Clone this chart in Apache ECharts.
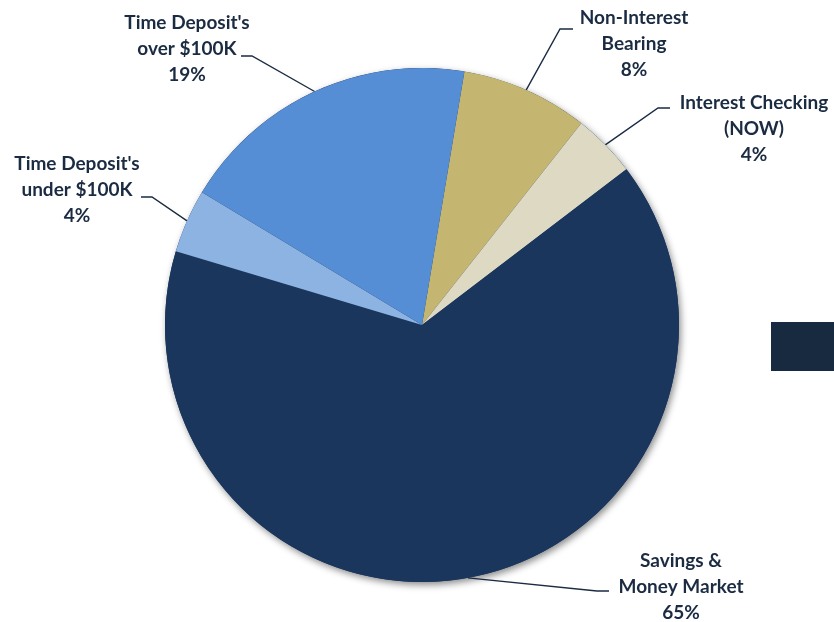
<!DOCTYPE html>
<html>
<head>
<meta charset="utf-8">
<script src="https://cdn.jsdelivr.net/npm/echarts@6/dist/echarts.min.js"></script>
<style>
  html, body { margin: 0; padding: 0; background: #ffffff; }
  #chart { width: 834px; height: 622px; }
</style>
</head>
<body>
<div id="chart"></div>
<script>
// Deposit mix, percent of total deposits (clockwise from the top)
const categories = [
  'Non-Interest\nBearing',
  'Interest Checking\n(NOW)',
  'Savings &\nMoney Market',
  "Time Deposit's\nunder $100K",
  "Time Deposit's\nover $100K"
];
const shares = [8, 4, 65, 4, 19];
const sliceColors = ['#c4b570', '#ddd9c3', '#1a365d', '#8db3e2', '#558ed5'];

// Text centres of each label, and the elbow / end of its leader line
const labelCentres = [[634, 44], [754, 129], [681, 587], [77, 190], [187, 49]];
const leaderEnds = [
  [[560, 29], [573, 29]],
  [[658, 108], [670, 108]],
  [[597, 591], [609, 591]],
  [[152, 197], [141, 197]],
  [[252, 56], [241, 56]]
];

const pieCenter = [422, 325];
const pieRadius = 257;
const startAngle = 80.5;
const inkColor = '#1a2b42';

const chart = echarts.init(document.getElementById('chart'), null, { renderer: 'canvas' });

const total = shares.reduce((a, b) => a + b, 0);

// Point on the outer rim at a slice's mid angle (used if the library gives none)
function rimPoint(i) {
  let before = 0;
  for (let k = 0; k < i; k++) before += shares[k];
  const mid = (before + shares[i] / 2) / total * 360;
  const a = (startAngle - mid) * Math.PI / 180;
  return [pieCenter[0] + pieRadius * Math.cos(a), pieCenter[1] - pieRadius * Math.sin(a)];
}

chart.setOption({
  animation: false,
  backgroundColor: '#ffffff',
  graphic: [{
    type: 'rect',
    shape: { x: 771, y: 322, width: 63, height: 49 },
    style: { fill: '#172a3f' }
  }],
  series: [
    {
      // soft drop shadow under the whole pie
      type: 'pie',
      silent: true,
      z: 1,
      center: pieCenter,
      radius: pieRadius,
      label: { show: false },
      labelLine: { show: false },
      itemStyle: {
        color: '#1a365d',
        shadowBlur: 7,
        shadowOffsetX: 2,
        shadowOffsetY: 3,
        shadowColor: 'rgba(0,0,0,0.45)'
      },
      data: [{ value: total, name: '' }]
    },
    {
      type: 'pie',
      z: 2,
      center: pieCenter,
      radius: pieRadius,
      startAngle: startAngle,
      clockwise: true,
      avoidLabelOverlap: false,
      itemStyle: { borderWidth: 0 },
      label: {
        show: true,
        position: 'outside',
        formatter: '{b}\n{c}%',
        fontFamily: 'Lato',
        fontWeight: 'bold',
        fontSize: 19,
        lineHeight: 26,
        color: inkColor,
        width: 220,
        overflow: 'none'
      },
      labelLine: {
        show: true,
        lineStyle: { color: inkColor, width: 1.4 }
      },
      labelLayout: function (params) {
        const i = params.dataIndex;
        const pts = params.labelLinePoints;
        const start = pts && pts[0] ? pts[0] : rimPoint(i);
        return {
          x: labelCentres[i][0],
          y: labelCentres[i][1],
          align: 'center',
          verticalAlign: 'middle',
          labelLinePoints: [start, leaderEnds[i][0], leaderEnds[i][1]]
        };
      },
      data: categories.map((name, i) => ({
        name: name,
        value: shares[i],
        itemStyle: { color: sliceColors[i] }
      }))
    }
  ]
});
</script>
</body>
</html>
